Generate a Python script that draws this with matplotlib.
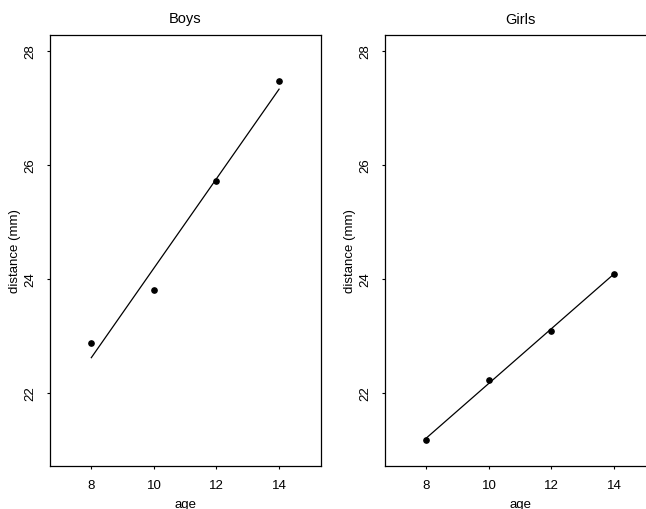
import matplotlib
matplotlib.use("Agg")
import matplotlib.pyplot as plt

# mean distance by age (Orthodont)
ages = [8, 10, 12, 14]
boys = [22.88, 23.81, 25.72, 27.47]
girls = [21.18, 22.23, 23.09, 24.09]

# fitted line end points (age 8 and age 14)
fit_ages = [8, 14]
boys_fit = [22.62, 27.33]
girls_fit = [21.21, 24.09]

xticks = [8, 10, 12, 14]
yticks = [22, 24, 26, 28]

plt.rcParams['font.family'] = ['Liberation Sans', 'DejaVu Sans']

fig = plt.figure(figsize=(6.46, 5.10), dpi=100)

W, H = 646.0, 510.0
panels = [
    ("Boys", boys, boys_fit, 50),
    ("Girls", girls, girls_fit, 385),
]

for title, vals, fit, left in panels:
    ax = fig.add_axes([left / W, 43 / H, 271 / W, 431 / H])
    ax.plot(fit_ages, fit, color='black', lw=0.9)
    ax.plot(ages, vals, 'o', color='black', ms=3.8)
    ax.set_xlim(6.68, 15.34)
    ax.set_ylim(20.72, 28.28)
    ax.set_xticks(xticks)
    ax.set_yticks(yticks)
    ax.set_yticklabels([str(t) for t in yticks], rotation=90, va='center')
    ax.tick_params(length=2.5, width=0.8, labelsize=9.5, pad=7)
    for s in ax.spines.values():
        s.set_linewidth(0.9)
    ax.set_title(title, fontsize=10.5, pad=9)
    ax.set_xlabel("age", fontsize=9.5, labelpad=5)
    ax.set_ylabel("distance (mm)", fontsize=9.5, labelpad=3)

fig.savefig("out.png", dpi=100)
